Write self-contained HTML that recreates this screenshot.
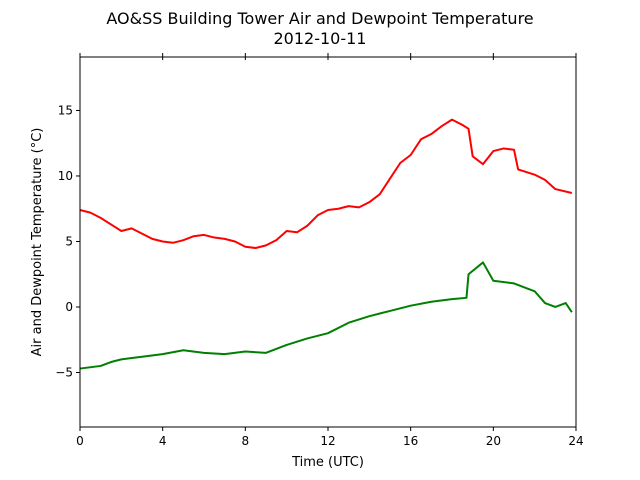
<!DOCTYPE html>
<html><head><meta charset="utf-8"><style>
body{margin:0;background:#fff;}
svg{display:block;font-family:"DejaVu Sans","Liberation Sans",sans-serif;}
</style></head><body>
<svg id="chart" width="640" height="480" xmlns="http://www.w3.org/2000/svg">
<text x="320" y="24" text-anchor="middle" font-size="16">AO&amp;SS Building Tower Air and Dewpoint Temperature</text>
<text x="320" y="44" text-anchor="middle" font-size="16">2012-10-11</text>
<g id="plot"></g>
<text x="328" y="466" text-anchor="middle" font-size="13">Time (UTC)</text>
<text transform="translate(41,242) rotate(-90)" text-anchor="middle" font-size="13">Air and Dewpoint Temperature (°C)</text>
</svg>
<script>
const xTicks=[0,4,8,12,16,20,24];
const yTicks=[-5,0,5,10,15];
const airTime=[0,0.5,1,1.5,2,2.5,3,3.5,4,4.5,5,5.5,6,6.5,7,7.5,8,8.5,9,9.5,10,10.5,11,11.5,12,12.5,13,13.5,14,14.5,15,15.5,16,16.5,17,17.5,18,18.5,18.8,19,19.5,20,20.5,21,21.2,22,22.5,23,23.8];
const airTemp=[7.4,7.2,6.8,6.3,5.8,6.0,5.6,5.2,5.0,4.9,5.1,5.4,5.5,5.3,5.2,5.0,4.6,4.5,4.7,5.1,5.8,5.7,6.2,7.0,7.4,7.5,7.7,7.6,8.0,8.6,9.8,11.0,11.6,12.8,13.2,13.8,14.3,13.9,13.6,11.5,10.9,11.9,12.1,12.0,10.5,10.1,9.7,9.0,8.7];
const dewTime=[0,1,1.5,2,3,4,5,6,7,8,9,10,11,12,13,14,15,16,17,18,18.7,18.8,19.5,20,21,22,22.5,23,23.5,23.8];
const dewTemp=[-4.7,-4.5,-4.2,-4.0,-3.8,-3.6,-3.3,-3.5,-3.6,-3.4,-3.5,-2.9,-2.4,-2.0,-1.2,-0.7,-0.3,0.1,0.4,0.6,0.7,2.5,3.4,2.0,1.8,1.2,0.3,0.0,0.3,-0.4];
const X0=80,X1=576,Y0=57,Y1=427,xmin=0,xmax=24,ymin=-9.16,ymax=19.08;
const xs=v=>X0+(v-xmin)/(xmax-xmin)*(X1-X0);
const ys=v=>Y1-(v-ymin)/(ymax-ymin)*(Y1-Y0);
const NS="http://www.w3.org/2000/svg";
const g=document.getElementById('plot');
function mk(t,a){const e=document.createElementNS(NS,t);for(const k in a)e.setAttribute(k,a[k]);g.appendChild(e);return e;}
function line(ts,vs,color,name){
  const p=mk('polyline',{points:ts.map((t,i)=>xs(t)+','+ys(vs[i])).join(' '),fill:'none',stroke:color,'stroke-width':2,'stroke-linejoin':'round'});
  
  
}
line(airTime,airTemp,'#ff0000','air-temperature-line');
line(dewTime,dewTemp,'#008000','dewpoint-line');
const fr=mk('rect',{x:X0,y:Y0,width:X1-X0,height:Y1-Y0,fill:'none',stroke:'#000','stroke-width':1});


xTicks.forEach(v=>{
  const x=xs(v);
  mk('line',{x1:x,x2:x,y1:Y1,y2:Y1+4,stroke:'#000'});
  mk('line',{x1:x,x2:x,y1:Y0+3,y2:Y0-4,stroke:'#000'});
  const t=mk('text',{x:x,y:Y1+18,'text-anchor':'middle','font-size':12});
  t.textContent=v;
  
  
});
yTicks.forEach(v=>{
  const y=ys(v);
  mk('line',{x1:X0,x2:X0-4,y1:y,y2:y,stroke:'#000'});
  const t=mk('text',{x:X0-7,y:y+4,'text-anchor':'end','font-size':12});
  t.textContent=v<0?'\u2212'+Math.abs(v):v;
  
  
});
</script>
</body></html>
